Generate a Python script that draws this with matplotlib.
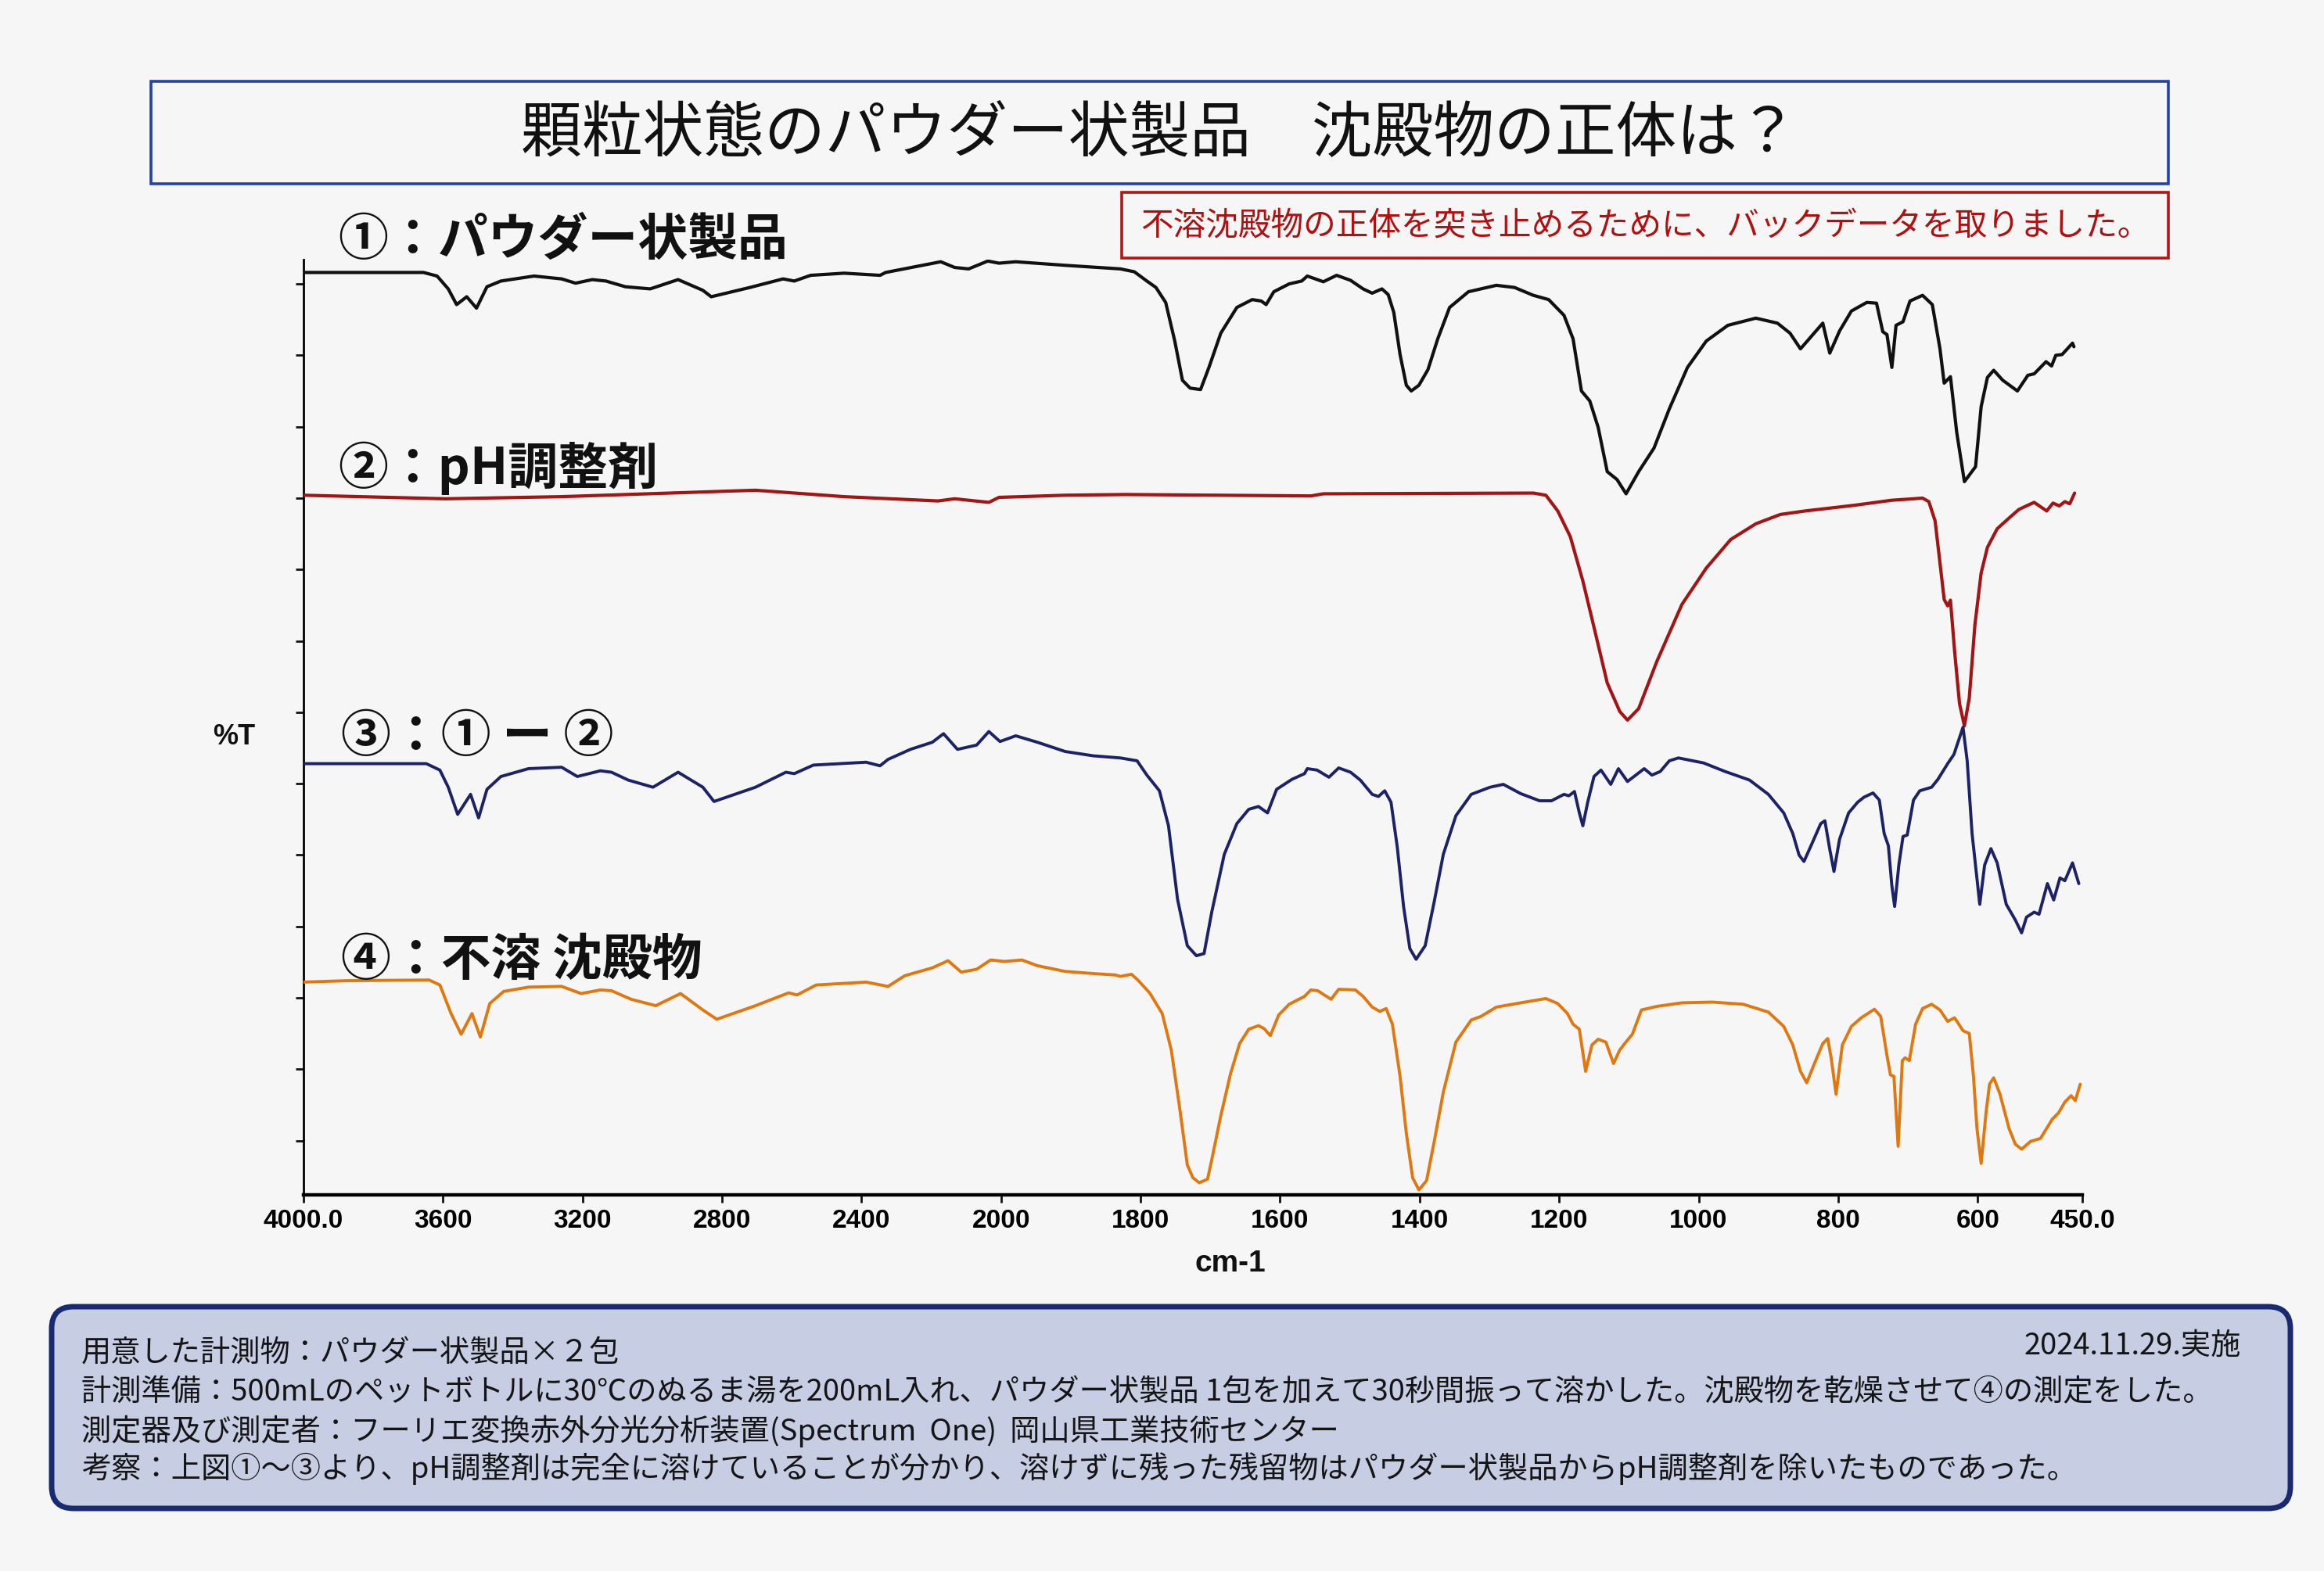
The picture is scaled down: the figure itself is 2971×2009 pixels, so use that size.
import numpy as np
import matplotlib
matplotlib.use('Agg')
import matplotlib.pyplot as plt
from matplotlib.patches import FancyBboxPatch, Rectangle

plt.rcParams['font.family'] = ['Noto Sans CJK JP', 'DejaVu Sans']

# ---------------- data ----------------
xticks = [4000, 3600, 3200, 2800, 2400, 2000, 1800, 1600, 1400, 1200, 1000, 800, 600, 450]
xticklabels = ['4000.0', '3600', '3200', '2800', '2400', '2000', '1800', '1600',
               '1400', '1200', '1000', '800', '600', '450.0']

# (1) powder product
wn1 = [4000, 3656, 3617, 3585, 3561, 3532, 3504, 3474, 3434, 3339,
       3260, 3220, 3172, 3133, 3077, 3006, 2926, 2855, 2831, 2720,
       2625, 2593, 2546, 2450, 2347, 2331, 2173, 2133, 2093, 2038,
       2006, 1979, 1908, 1829, 1809, 1791, 1778, 1764, 1751, 1740,
       1729, 1714, 1702, 1685, 1662, 1640, 1627, 1620, 1609, 1587,
       1569, 1561, 1538, 1519, 1499, 1481, 1468, 1454, 1445, 1437,
       1428, 1419, 1412, 1401, 1388, 1374, 1357, 1330, 1290, 1264,
       1237, 1215, 1193, 1180, 1168, 1156, 1144, 1131, 1117, 1104,
       1086, 1064, 1042, 1016, 989, 958, 918, 887, 869, 854,
       838, 822, 812, 798, 781, 759, 745, 736, 730, 723,
       717, 707, 697, 679, 665, 654, 648, 639, 630, 619,
       603, 595, 586, 577, 564, 543, 528, 519, 502, 494,
       488, 479, 464, 462]
t1 = [121.6, 121.6, 121.1, 119.3, 117.1, 118.2, 116.6, 119.6, 120.4, 121.1,
      120.7, 120.1, 120.6, 120.4, 119.6, 119.3, 120.6, 119.1, 118.2, 119.5,
      120.7, 120.4, 121.2, 121.5, 121.2, 121.6, 123.1, 122.3, 122.1, 123.2,
      122.9, 123.1, 122.6, 122.1, 121.7, 120.4, 119.5, 117.4, 112.0, 106.5,
      105.4, 105.2, 108.3, 113.1, 116.7, 117.8, 117.6, 117.1, 118.9, 120.0,
      120.4, 121.1, 120.3, 121.2, 120.5, 119.3, 118.7, 119.3, 118.5, 116.0,
      110.1, 105.8, 105.0, 105.8, 108.0, 112.3, 116.7, 118.9, 119.8, 119.5,
      118.4, 117.8, 115.6, 112.3, 105.0, 103.6, 99.9, 93.7, 92.6, 90.6,
      93.7, 97.0, 102.5, 108.3, 112.0, 114.2, 115.2, 114.5, 113.1, 110.9,
      112.7, 114.5, 110.3, 113.4, 116.2, 117.4, 117.3, 113.3, 112.9, 108.3,
      114.2, 114.7, 117.6, 118.4, 117.1, 110.9, 106.1, 107.0, 99.2, 92.3,
      94.4, 102.8, 106.9, 107.9, 106.5, 105.0, 107.2, 107.4, 109.1, 108.5,
      110.0, 110.1, 111.7, 111.2]

# (2) pH adjuster
wn2 = [4000, 3593, 3260, 2704, 2450, 2181, 2133, 2035, 2006, 1908,
       1822, 1556, 1538, 1237, 1219, 1202, 1184, 1166, 1149, 1131,
       1113, 1102, 1086, 1060, 1024, 989, 954, 918, 883, 847,
       776, 723, 692, 679, 670, 661, 654, 648, 643, 639,
       633, 626, 619, 612, 604, 595, 586, 572, 555, 541,
       528, 519, 510, 501, 492, 483, 475, 468, 461]
t2 = [90.4, 89.9, 90.2, 91.1, 90.2, 89.6, 89.9, 89.4, 90.1, 90.4,
      90.5, 90.3, 90.6, 90.7, 90.4, 88.2, 84.6, 78.4, 71.5, 64.1,
      60.1, 58.9, 60.5, 67.1, 75.1, 80.2, 84.2, 86.4, 87.7, 88.2,
      89.0, 89.7, 89.9, 90.0, 89.5, 86.8, 80.9, 75.8, 74.9, 75.7,
      68.5, 61.2, 58.1, 62.0, 72.2, 79.5, 83.1, 85.7, 87.2, 88.4,
      89.0, 89.4, 88.8, 88.2, 89.3, 88.9, 89.5, 89.2, 90.7]

# (3) = (1) - (2)
wn3 = [4000, 3648, 3609, 3585, 3558, 3521, 3498, 3474, 3434, 3355,
       3260, 3215, 3149, 3117, 3069, 2998, 2926, 2855, 2823, 2704,
       2617, 2593, 2538, 2387, 2347, 2324, 2260, 2197, 2165, 2125,
       2070, 2035, 2003, 1979, 1948, 1908, 1868, 1829, 1805, 1791,
       1773, 1760, 1747, 1733, 1720, 1709, 1698, 1680, 1662, 1645,
       1631, 1618, 1605, 1583, 1565, 1561, 1547, 1530, 1516, 1499,
       1485, 1468, 1459, 1450, 1441, 1432, 1423, 1414, 1405, 1392,
       1379, 1366, 1348, 1326, 1299, 1280, 1255, 1228, 1211, 1193,
       1186, 1178, 1171, 1166, 1159, 1150, 1140, 1126, 1115, 1102,
       1078, 1067, 1055, 1042, 1029, 993, 962, 927, 900, 878,
       865, 856, 849, 838, 825, 819, 812, 806, 798, 785,
       772, 763, 750, 741, 734, 728, 723, 719, 713, 707,
       701, 692, 683, 666, 657, 643, 634, 621, 615, 608,
       597, 590, 581, 572, 559, 546, 537, 530, 519, 512,
       500, 491, 482, 475, 464, 455]
t3 = [52.8, 52.8, 51.9, 49.5, 45.7, 48.5, 45.2, 49.2, 51.0, 52.1,
      52.3, 51.0, 51.8, 51.6, 50.5, 49.5, 51.6, 49.5, 47.5, 49.5,
      51.6, 51.4, 52.6, 53.0, 52.5, 53.4, 54.8, 55.8, 57.0, 54.8,
      55.4, 57.3, 55.9, 56.7, 55.8, 54.5, 53.9, 53.6, 53.2, 51.2,
      49.0, 44.1, 33.8, 27.3, 25.9, 26.2, 32.0, 40.1, 44.4, 46.4,
      46.8, 45.9, 49.2, 50.6, 51.4, 52.1, 51.9, 50.9, 52.2, 51.6,
      50.5, 48.5, 48.2, 49.0, 47.4, 41.1, 32.8, 26.9, 25.4, 27.3,
      33.5, 40.1, 45.5, 48.5, 49.5, 49.9, 48.6, 47.6, 47.6, 48.5,
      48.3, 48.9, 45.9, 44.1, 47.4, 51.0, 51.9, 49.9, 52.1, 50.3,
      52.1, 51.2, 51.7, 53.2, 53.6, 52.9, 51.7, 50.5, 48.5, 45.9,
      43.0, 40.0, 39.1, 41.5, 44.4, 44.8, 40.8, 37.7, 42.2, 45.9,
      47.4, 48.1, 48.7, 47.7, 43.0, 41.3, 35.7, 32.8, 38.6, 42.6,
      42.8, 47.7, 49.0, 49.5, 50.6, 52.8, 54.1, 57.9, 53.2, 43.0,
      33.1, 38.6, 40.9, 38.9, 33.1, 30.9, 29.1, 31.3, 32.0, 31.7,
      36.0, 33.7, 36.8, 36.4, 38.9, 36.0]

# (4) insoluble precipitate
wn4 = [4000, 3878, 3640, 3609, 3577, 3548, 3517, 3493, 3466, 3426,
       3355, 3260, 3204, 3149, 3117, 3061, 2990, 2919, 2855, 2815,
       2704, 2609, 2585, 2530, 2387, 2324, 2276, 2197, 2152, 2114,
       2070, 2030, 1995, 1970, 1948, 1908, 1868, 1836, 1829, 1813,
       1804, 1787, 1769, 1756, 1744, 1733, 1725, 1716, 1704, 1698,
       1685, 1671, 1658, 1645, 1631, 1623, 1614, 1602, 1587, 1565,
       1556, 1546, 1527, 1516, 1492, 1481, 1468, 1457, 1448, 1439,
       1428, 1419, 1410, 1401, 1390, 1379, 1366, 1348, 1326, 1312,
       1290, 1255, 1219, 1202, 1188, 1180, 1171, 1162, 1153, 1144,
       1133, 1122, 1113, 1106, 1095, 1082, 1060, 1024, 980, 936,
       900, 878, 865, 854, 845, 834, 822, 815, 810, 803,
       794, 781, 767, 748, 739, 730, 725, 720, 714, 708,
       704, 698, 689, 679, 666, 654, 643, 633, 621, 612,
       606, 601, 595, 588, 583, 577, 568, 555, 546, 537,
       524, 510, 493, 484, 475, 466, 460, 453]
t4 = [22.2, 22.4, 22.5, 21.8, 17.8, 14.9, 17.8, 14.5, 19.2, 20.9,
      21.5, 21.6, 20.6, 21.1, 21.0, 19.8, 18.9, 20.6, 18.3, 17.0,
      18.9, 20.7, 20.4, 21.8, 22.2, 21.6, 23.1, 24.2, 25.2, 23.6,
      24.0, 25.3, 25.1, 25.3, 24.5, 23.7, 23.4, 23.2, 23.0, 23.3,
      22.5, 20.7, 17.8, 12.7, 4.6, -3.4, -5.2, -5.9, -5.4, -2.7,
      3.5, 9.4, 13.6, 15.6, 16.1, 15.7, 14.7, 17.6, 19.1, 20.2,
      21.1, 21.0, 19.8, 21.2, 21.1, 20.2, 18.7, 18.1, 18.5, 16.3,
      9.0, 1.0, -5.2, -6.9, -5.6, -0.1, 6.8, 13.8, 16.9, 17.4,
      18.7, 19.3, 19.9, 19.2, 17.8, 16.3, 15.6, 9.7, 13.4, 14.2,
      13.8, 10.8, 12.7, 13.6, 14.9, 18.3, 18.8, 19.3, 19.4, 19.1,
      18.0, 16.0, 13.4, 9.7, 8.1, 10.8, 13.6, 14.3, 11.6, 6.5,
      13.4, 16.0, 17.2, 18.4, 17.4, 11.9, 9.2, 9.0, -0.8, 11.2,
      11.6, 11.2, 16.3, 18.5, 19.1, 18.3, 16.7, 17.2, 15.4, 15.0,
      9.0, 1.7, -3.2, 3.9, 7.9, 8.8, 6.5, 1.7, -0.5, -1.2,
      -0.1, 0.3, 3.0, 3.9, 5.4, 6.3, 5.6, 7.9]

series_labels = ['①：パウダー状製品', '②：pH調整剤', '③：① ー ②', '④：不溶 沈殿物']
series_colors = ['#111111', '#a31414', '#1b2266', '#e07812']
series_widths = [3.0, 3.0, 2.8, 2.8]

title_text = '顆粒状態のパウダー状製品　沈殿物の正体は？'
note_text = '不溶沈殿物の正体を突き止めるために、バックデータを取りました。'
info_lines = [
    '用意した計測物：パウダー状製品×２包',
    '計測準備：500mLのペットボトルに30℃のぬるま湯を200mL入れ、パウダー状製品 1包を加えて30秒間振って溶かした。沈殿物を乾燥させて④の測定をした。',
    '測定器及び測定者：フーリエ変換赤外分光分析装置(Spectrum  One)  岡山県工業技術センター',
    '考察：上図①～③より、pH調整剤は完全に溶けていることが分かり、溶けずに残った残留物はパウダー状製品からpH調整剤を除いたものであった。',
]
date_text = '2024.11.29.実施'

# ---------------- figure ----------------
W, H = 2971, 2009
fig = plt.figure(figsize=(W / 100, H / 100), dpi=100, facecolor='#f6f6f6')


def fx(px):
    return px / W


def fy(py):
    return 1 - py / H


ax = fig.add_axes([fx(388), fy(1528), (2662 - 388) / W, (1528 - 332) / H])
ax.set_facecolor('none')


def fwd(x):
    x = np.asarray(x, float)
    return np.where(x <= 2000, x, 2000 + (x - 2000) / 2)


def inv(u):
    u = np.asarray(u, float)
    return np.where(u <= 2000, u, 2000 + (u - 2000) * 2)


ax.set_xscale('function', functions=(fwd, inv))
ax.set_xlim(4000, 450)
ax.set_ylim(-7.6, 123.4)

for wn, t, c, lw in zip([wn1, wn2, wn3, wn4], [t1, t2, t3, t4], series_colors, series_widths):
    ax.plot(wn, t, color=c, lw=lw, solid_joinstyle='round', solid_capstyle='round', zorder=3)

for s in ['top', 'right']:
    ax.spines[s].set_visible(False)
ax.spines['left'].set_linewidth(2.0)
ax.spines['bottom'].set_linewidth(3.2)

ax.set_xticks(xticks)
ax.set_xticklabels(xticklabels, fontfamily='Liberation Sans', fontweight='bold', fontsize=24)
ax.xaxis.set_minor_locator(matplotlib.ticker.NullLocator())
ax.set_yticks(np.arange(0, 121, 10))
ax.set_yticklabels([])
ax.tick_params(axis='both', direction='out', length=7, width=2, color='#111111')
ax.tick_params(axis='x', pad=6)

# series labels
label_pos = [(432, 307), (432, 599), (436, 942), (436, 1228)]
for (px, py), s in zip(label_pos, series_labels):
    fig.text(fx(px), fy(py), s, ha='left', va='center', fontsize=46,
             fontweight='bold', color='#111111', zorder=5)

fig.text(fx(299), fy(942), '%T', ha='center', va='center', fontsize=26,
         fontweight='bold', family='Liberation Sans', color='#111111')
fig.text(fx(1573), fy(1616), 'cm-1', ha='center', va='center', fontsize=28,
         fontweight='bold', family='Liberation Sans', color='#111111')

# title box
fig.patches.append(Rectangle((1.93, 17.74), 25.79, 1.31, transform=fig.dpi_scale_trans,
                             facecolor='none', edgecolor='#2342a6', lw=2.6))
fig.text(fx(1482), fy(172), title_text, ha='center', va='center', fontsize=56,
         color='#111111')

# note box
fig.patches.append(Rectangle((14.34, 16.79), 13.38, 0.84, transform=fig.dpi_scale_trans,
                             facecolor='none', edgecolor='#b01818', lw=2.6))
fig.text(fx(2103), fy(290), note_text, ha='center', va='center', fontsize=30,
         color='#b01010')

# info box
fig.patches.append(FancyBboxPatch((0.66, 0.80), 28.62, 2.58,
                                  boxstyle='round,pad=0,rounding_size=0.28',
                                  transform=fig.dpi_scale_trans,
                                  facecolor='#c7cde2', edgecolor='#1a2a70', lw=5))
line_y = [1730, 1781, 1830, 1878]
for py, s in zip(line_y, info_lines):
    fig.text(fx(104), fy(py), s, ha='left', va='center', fontsize=27.5, color='#151515')
fig.text(fx(2865), fy(1721), date_text, ha='right', va='center', fontsize=27.5,
         color='#151515')

fig.savefig('out.png', dpi=100, facecolor=fig.get_facecolor())
